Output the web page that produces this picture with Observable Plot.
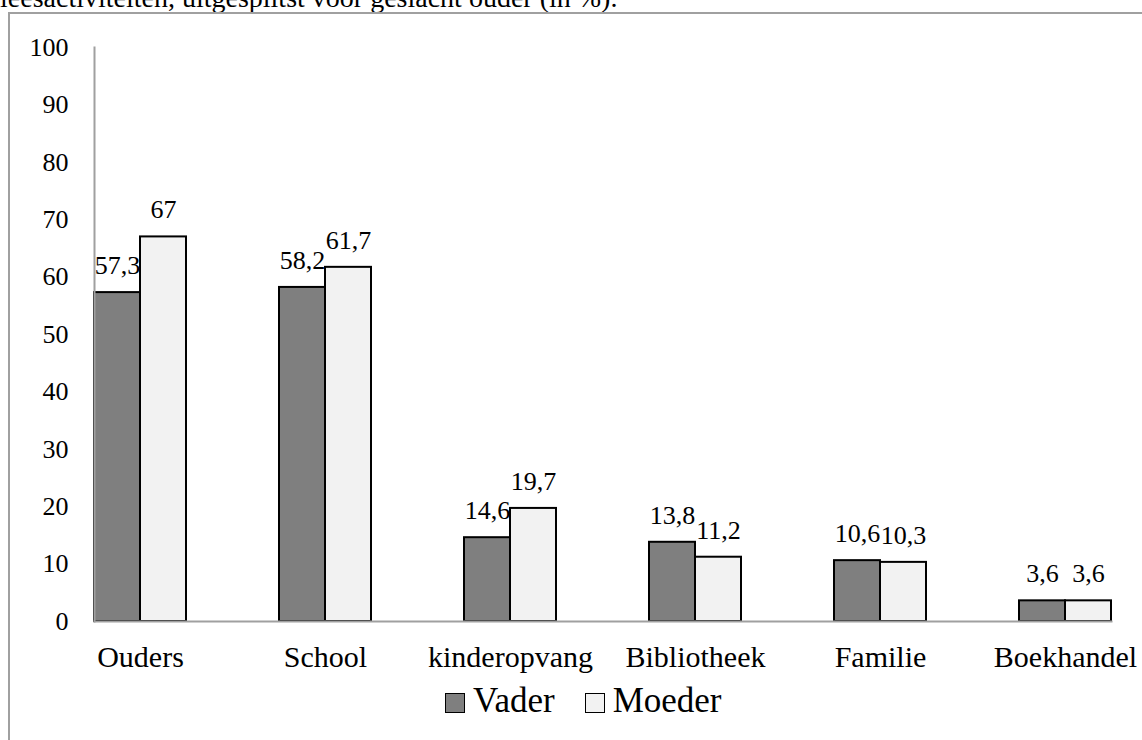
<!DOCTYPE html>
<html>
<head>
<meta charset="utf-8">
<script src="https://cdn.jsdelivr.net/npm/d3@7"></script>
<script src="https://cdn.jsdelivr.net/npm/@observablehq/plot@0.6"></script>
<style>
  html, body { margin: 0; padding: 0; background: #fff; overflow: hidden; }
  body { position: relative; width: 1142px; height: 740px; font-family: "Liberation Serif", "DejaVu Serif", serif; color: #000; }
  #caption { position: absolute; left: 0; top: -16px; font-size: 28px; line-height: 28px; white-space: nowrap; }
  #box { position: absolute; left: 8px; top: 12px; width: 2000px; height: 2000px; border-left: 2px solid #a0a0a0; border-top: 2px solid #a0a0a0; }
  #chart { position: absolute; left: 0; top: 0; font-family: "Liberation Serif", serif; }
  #legend { position: absolute; left: 445px; top: 681px; height: 40px; font-size: 35px; line-height: 40px; display: flex; align-items: flex-start; }
  .item { display: flex; align-items: flex-start; margin-right: 30px; }
  .sw { width: 18px; height: 18px; border: 1.5px solid #000; margin-top: 12px; margin-right: 8px; }
</style>
</head>
<body>
<div id="caption">leesactiviteiten, uitgesplitst voor geslacht ouder (in %).</div>
<div id="box"></div>
<div id="chart"></div>
<div id="legend"></div>
<script>
const categories = ["Ouders", "School", "kinderopvang", "Bibliotheek", "Familie", "Boekhandel"];
const series = ["Vader", "Moeder"];
const vader = [57.3, 58.2, 14.6, 13.8, 10.6, 3.6];
const moeder = [67, 61.7, 19.7, 11.2, 10.3, 3.6];
const yTicks = [0, 10, 20, 30, 40, 50, 60, 70, 80, 90, 100];
const colors = ["#7f7f7f", "#f2f2f2"];

const values = [vader, moeder];
const data = [];
categories.forEach((c, i) => series.forEach((s, j) => data.push({cat: c, s, v: values[j][i]})));
const fmt = v => String(v).replace(".", ",");
const ff = "'Liberation Serif', 'Times New Roman', serif";

const plot = Plot.plot({
  width: 1142,
  height: 680,
  marginLeft: 91,
  marginRight: 29,
  marginTop: 47,
  marginBottom: 59,
  style: {fontFamily: ff, color: "#000", background: "transparent", overflow: "visible"},
  facet: {marginTop: 0, marginBottom: 0, marginLeft: 0, marginRight: 0},
  fx: {domain: categories, paddingInner: 0.504, paddingOuter: 0, axis: null, label: null},
  x: {domain: series, padding: 0, axis: null},
  y: {domain: [0, 100], axis: null},
  color: {domain: series, range: colors},
  marks: [
    Plot.barY(data, {fx: "cat", x: "s", y: "v", fill: "s", stroke: "#000", strokeWidth: 2}),
    Plot.frame({anchor: "bottom", facet: "super", stroke: "#a0a0a0", strokeWidth: 2}),
    Plot.frame({anchor: "left", facet: "super", stroke: "#a0a0a0", strokeWidth: 2}),
    Plot.text(data, {fx: "cat", x: "s", y: "v", text: d => fmt(d.v), dy: -27, fontSize: 26, fontFamily: ff, fill: "#000"}),
    Plot.axisY(yTicks, {tickSize: 0, tickPadding: 26, fontSize: 26, fontFamily: ff, label: null, fill: "#000"}),
    Plot.axisFx({anchor: "bottom", tickSize: 0, tickPadding: 24, fontSize: 30, fontFamily: ff, label: null, fill: "#000"})
  ]
});
document.getElementById("chart").appendChild(plot);

const legend = document.getElementById("legend");
series.forEach((s, j) => {
  const it = document.createElement("div");
  it.className = "item";
  const sw = document.createElement("div");
  sw.className = "sw";
  sw.style.background = colors[j];
  const t = document.createElement("span");
  t.textContent = s;
  it.appendChild(sw); it.appendChild(t);
  legend.appendChild(it);
});
</script>
</body>
</html>
